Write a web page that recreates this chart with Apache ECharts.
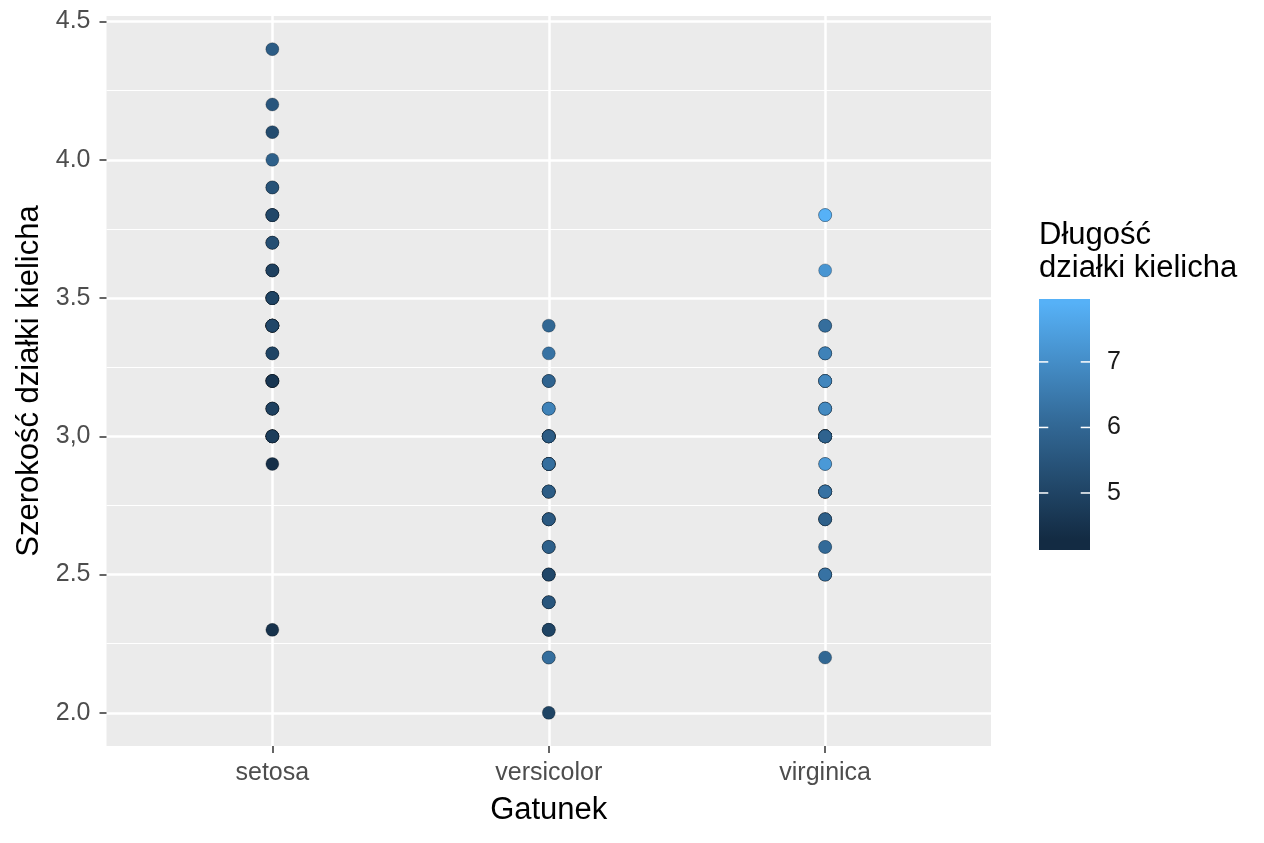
<!DOCTYPE html>
<html lang="pl">
<head>
<meta charset="UTF-8">
<title>Szerokość działki kielicha</title>
<style>
  *{margin:0;padding:0;}
  body{background:#fff;}
  #chart{width:1264px;height:843px;}
</style>
<script src="https://cdn.jsdelivr.net/npm/echarts@6/dist/echarts.min.js"></script>
</head>
<body>
<div id="chart"></div>
<script>
  // iris: dlugosc (Sepal.Length) i szerokosc (Sepal.Width) dzialki kielicha
  const species = ['setosa', 'versicolor', 'virginica'];

  const setosaLength = [5.1,4.9,4.7,4.6,5.0,5.4,4.6,5.0,4.4,4.9,5.4,4.8,4.8,4.3,5.8,5.7,5.4,5.1,5.7,5.1,5.4,5.1,4.6,5.1,4.8,5.0,5.0,5.2,5.2,4.7,4.8,5.4,5.2,5.5,4.9,5.0,5.5,4.9,4.4,5.1,5.0,4.5,4.4,5.0,5.1,4.8,5.1,4.6,5.3,5.0];
  const setosaWidth = [3.5,3.0,3.2,3.1,3.6,3.9,3.4,3.4,2.9,3.1,3.7,3.4,3.0,3.0,4.0,4.4,3.9,3.5,3.8,3.8,3.4,3.7,3.6,3.3,3.4,3.0,3.4,3.5,3.4,3.2,3.1,3.4,4.1,4.2,3.1,3.2,3.5,3.6,3.0,3.4,3.5,2.3,3.2,3.5,3.8,3.0,3.8,3.2,3.7,3.3];

  const versicolorLength = [7.0,6.4,6.9,5.5,6.5,5.7,6.3,4.9,6.6,5.2,5.0,5.9,6.0,6.1,5.6,6.7,5.6,5.8,6.2,5.6,5.9,6.1,6.3,6.1,6.4,6.6,6.8,6.7,6.0,5.7,5.5,5.5,5.8,6.0,5.4,6.0,6.7,6.3,5.6,5.5,5.5,6.1,5.8,5.0,5.6,5.7,5.7,6.2,5.1,5.7];
  const versicolorWidth = [3.2,3.2,3.1,2.3,2.8,2.8,3.3,2.4,2.9,2.7,2.0,3.0,2.2,2.9,2.9,3.1,3.0,2.7,2.2,2.5,3.2,2.8,2.5,2.8,2.9,3.0,2.8,3.0,2.9,2.6,2.4,2.4,2.7,2.7,3.0,3.4,3.1,2.3,3.0,2.5,2.6,3.0,2.6,2.3,2.7,3.0,2.9,2.9,2.5,2.8];

  const virginicaLength = [6.3,5.8,7.1,6.3,6.5,7.6,4.9,7.3,6.7,7.2,6.5,6.4,6.8,5.7,5.8,6.4,6.5,7.7,7.7,6.0,6.9,5.6,7.7,6.3,6.7,7.2,6.2,6.1,6.4,7.2,7.4,7.9,6.4,6.3,6.1,7.7,6.3,6.4,6.0,6.9,6.7,6.9,5.8,6.8,6.7,6.7,6.3,6.5,6.2,5.9];
  const virginicaWidth = [3.3,2.7,3.0,2.9,3.0,3.0,2.5,2.9,2.5,3.6,3.2,2.7,3.0,2.5,2.8,3.2,3.0,3.8,2.6,2.2,3.2,2.8,2.8,2.7,3.3,3.2,2.8,3.0,2.8,3.0,2.8,3.8,2.8,2.8,2.6,3.0,3.4,3.1,3.0,3.1,3.1,3.1,2.7,3.2,3.3,3.0,2.5,3.0,3.4,3.0];

  const yTicks = [2.0, 2.5, 3.0, 3.5, 4.0, 4.5];
  const yTickLabels = ['2.0', '2.5', '3,0', '3.5', '4.0', '4.5'];
  const yMinorTicks = [2.25, 2.75, 3.25, 3.75, 4.25];
  const xTicks = [1, 2, 3];

  const colourLimits = [4.3, 7.9];
  const colourbarRange = [4.13, 7.96];
  const colourbarTicks = [5, 6, 7];
  const colourStops = ['#132B43', '#336A98', '#56B1F7'];

  const FONT = '"Liberation Sans", Arial, sans-serif';

  var lengths = [setosaLength, versicolorLength, virginicaLength];
  var widths = [setosaWidth, versicolorWidth, virginicaWidth];
  var points = [];
  for (let s = 0; s < species.length; s++) {
    for (let i = 0; i < widths[s].length; i++) {
      points.push([s + 1, widths[s][i], lengths[s][i]]);
    }
  }

  var myChart = echarts.init(document.getElementById('chart'));

  var option = {
    animation: false,
    backgroundColor: '#ffffff',
    textStyle: { fontFamily: FONT },
    grid: [
      { left: 106.5, right: 273, top: 16, bottom: 97, show: true, backgroundColor: '#EBEBEB', borderWidth: 0, containLabel: false, outerBoundsMode: 'none' },
      { left: 1039, top: 299, width: 51, height: 251, containLabel: false, outerBoundsMode: 'none' }
    ],
    xAxis: [
      {
        gridIndex: 0, type: 'value', min: 0.4, max: 3.6,
        axisLine: { show: false },
        axisTick: { show: true, customValues: xTicks, length: 7, lineStyle: { color: '#333333', width: 1.5 } },
        axisLabel: { customValues: xTicks, formatter: function (v) { return species[v - 1]; }, fontSize: 25, color: '#4D4D4D', margin: 15, fontFamily: FONT },
        splitLine: { show: true, lineStyle: { color: '#ffffff', width: 2.5 } },
        name: 'Gatunek', nameLocation: 'middle', nameGap: 49,
        nameTextStyle: { fontSize: 31, color: '#000000', fontFamily: FONT }
      },
      { gridIndex: 1, type: 'value', min: 0, max: 1, show: false }
    ],
    yAxis: [
      {
        gridIndex: 0, type: 'value', min: 1.88, max: 4.52,
        axisLine: { show: false },
        axisTick: { show: true, customValues: yTicks, length: 7, lineStyle: { color: '#333333', width: 1.5 } },
        axisLabel: { customValues: yTicks, formatter: function (v) { return yTickLabels[yTicks.indexOf(v)]; }, fontSize: 25, color: '#4D4D4D', margin: 16, fontFamily: FONT },
        splitLine: { show: true, lineStyle: { color: '#ffffff', width: 2.5 } },
        name: 'Szerokość działki kielicha', nameLocation: 'middle', nameGap: 60,
        nameTextStyle: { fontSize: 31, color: '#000000', fontFamily: FONT }
      },
      {
        // linie pomocnicze (minor)
        gridIndex: 0, type: 'value', min: 1.88, max: 4.52, position: 'left',
        axisLine: { show: false },
        axisTick: { show: false, customValues: yMinorTicks },
        axisLabel: { show: false },
        splitLine: { show: true, lineStyle: { color: '#ffffff', width: 1.2 } }
      },
      {
        gridIndex: 1, type: 'value', min: colourbarRange[0], max: colourbarRange[1], position: 'right',
        axisLine: { show: false },
        axisTick: { show: false, customValues: colourbarTicks },
        axisLabel: { customValues: colourbarTicks, fontSize: 25, color: '#1A1A1A', margin: 17, fontFamily: FONT },
        splitLine: { show: false }
      },
      {
        // tylko tytul legendy
        gridIndex: 1, type: 'value', min: colourbarRange[0], max: colourbarRange[1], position: 'left',
        axisLine: { show: false },
        axisTick: { show: false },
        axisLabel: { show: false },
        splitLine: { show: false },
        name: 'Długość\ndziałki kielicha', nameLocation: 'end', nameGap: 14,
        nameTextStyle: { fontSize: 31, lineHeight: 33, color: '#000000', align: 'left', verticalAlign: 'bottom', fontFamily: FONT }
      }
    ],
    visualMap: {
      show: false, type: 'continuous', seriesIndex: 0, dimension: 2,
      min: colourLimits[0], max: colourLimits[1],
      inRange: { color: colourStops }
    },
    series: [
      {
        type: 'scatter', xAxisIndex: 0, yAxisIndex: 0,
        symbolSize: 13,
        itemStyle: { borderColor: 'rgba(0,0,0,0.25)', borderWidth: 1, opacity: 1 },
        data: points
      },
      {
        // pasek legendy kolorow z bialymi kreskami na wartosciach 5, 6, 7
        type: 'custom', xAxisIndex: 1, yAxisIndex: 2, silent: true,
        data: [[0, colourbarRange[0], 1, colourbarRange[1]]],
        encode: { x: [0, 2], y: [1, 3] },
        renderItem: function (params, api) {
          var p0 = api.coord([api.value(0), api.value(1)]);
          var p1 = api.coord([api.value(2), api.value(3)]);
          var span = colourbarRange[1] - colourbarRange[0];
          var stops = colourStops.map(function (c, k) {
            var v = colourLimits[0] + k * (colourLimits[1] - colourLimits[0]) / (colourStops.length - 1);
            return { offset: (v - colourbarRange[0]) / span, color: c };
          });
          var children = [{
            type: 'rect',
            shape: { x: p0[0], y: p1[1], width: p1[0] - p0[0], height: p0[1] - p1[1] },
            style: { fill: new echarts.graphic.LinearGradient(0, 1, 0, 0, stops) }
          }];
          var tickLen = (p1[0] - p0[0]) / 5.5;
          colourbarTicks.forEach(function (t) {
            var y = api.coord([0, t])[1];
            children.push({ type: 'line', shape: { x1: p0[0], y1: y, x2: p0[0] + tickLen, y2: y }, style: { stroke: '#ffffff', lineWidth: 1.5 } });
            children.push({ type: 'line', shape: { x1: p1[0] - tickLen, y1: y, x2: p1[0], y2: y }, style: { stroke: '#ffffff', lineWidth: 1.5 } });
          });
          return { type: 'group', children: children };
        }
      }
    ]
  };

  myChart.setOption(option);
</script>
</body>
</html>
